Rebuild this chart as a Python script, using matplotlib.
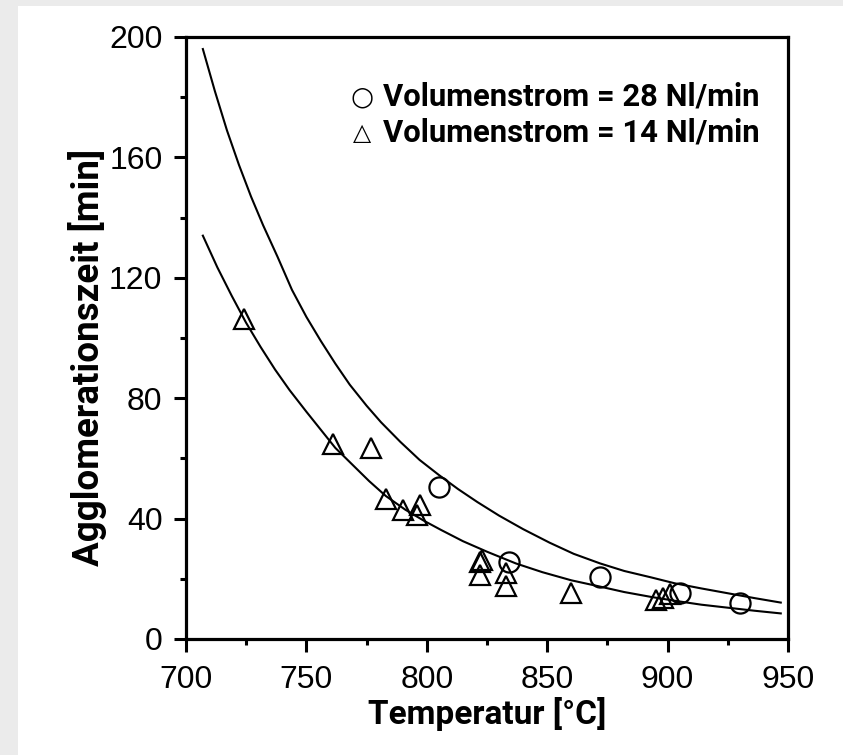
import numpy as np
import matplotlib.pyplot as plt
from matplotlib.patches import Rectangle

# --- Messpunkte ---
T_28 = [805, 834, 872, 905, 930]
t_28 = [50.5, 25.7, 20.6, 15.4, 12.1]

T_14 = [724, 761, 777, 783, 790, 797, 796, 822, 823, 822, 833, 833, 860, 895, 898, 901]
t_14 = [106.2, 64.8, 63.4, 46.4, 42.7, 44.6, 41.3, 25.7, 26.3, 21.3, 21.8, 17.7, 15.4, 13.0, 13.5, 15.0]

T_fit_28 = [707, 712, 717, 722, 727, 732, 738, 744, 750, 756, 762, 768, 775, 781, 789, 797,
            805, 813, 821, 830, 840, 851, 861, 872, 882, 893, 903, 914, 925, 936, 947]
t_fit_28 = [196, 182, 169, 157.5, 147, 137.5, 127, 116, 107, 99, 91.5, 84.5, 77.5, 72, 65.5, 59.5,
            54.5, 49.8, 45.5, 41, 36.5, 32, 28.3, 25.1, 22.6, 20.5, 18.5, 16.8, 15.2, 13.6, 12.1]

T_fit_14 = [707, 713, 719, 725, 731, 737, 743, 750, 756, 762, 769, 776, 783, 791, 799, 806,
            815, 825, 837, 848, 860, 872, 882, 893, 903, 914, 925, 936, 947]
t_fit_14 = [134, 123.5, 114, 105, 97, 89.5, 82.7, 75.5, 69.5, 63.5, 58, 52.5, 47.5, 43, 39.2, 36.2,
            32.5, 29, 25.1, 22.2, 19.5, 17.4, 15.6, 14.0, 12.7, 11.4, 10.4, 9.4, 8.5]

xticks = [700, 750, 800, 850, 900, 950]
yticks = [0, 40, 80, 120, 160, 200]

plt.rcParams['font.family'] = ['Liberation Sans', 'DejaVu Sans']

fig = plt.figure(figsize=(8.43, 7.55), dpi=100, facecolor="#ebebeb")
# weisser Bereich (grauer Rand nur links und oben)
bg = fig.add_axes([18 / 843, 0, 1 - 18 / 843, 1 - 6 / 755], zorder=-5)
bg.axis("off")
bg.add_patch(Rectangle((0, 0), 1, 1, transform=bg.transAxes, facecolor="white", edgecolor="none"))

ax = fig.add_axes([186 / 843, 1 - 639 / 755, 602 / 843, 602 / 755])
ax.set_facecolor("white")

ax.plot(T_fit_28, t_fit_28, color="black", lw=1.5)
ax.plot(T_fit_14, t_fit_14, color="black", lw=1.5)

ax.plot(T_28, t_28, "o", ms=14.5, mfc="none", mec="black", mew=1.6)
ax.plot(T_14, t_14, "^", ms=14, mfc="none", mec="black", mew=1.6)

ax.set_xlim(700, 950)
ax.set_ylim(0, 200)
ax.set_xticks(xticks)
ax.set_yticks(yticks)
ax.set_xticks([725, 775, 825, 875, 925], minor=True)
ax.set_yticks([20, 60, 100, 140, 180], minor=True)

for s in ax.spines.values():
    s.set_linewidth(2.3)
ax.tick_params(which="major", direction="out", length=9, width=2.2, labelsize=23, pad=8)
ax.tick_params(which="minor", direction="out", length=4, width=2.2)
ax.tick_params(axis="x", pad=10)

fam = ['Roboto', 'Liberation Sans', 'DejaVu Sans']
ax.set_xlabel("Temperatur [°C]", labelpad=1, family=fam, fontsize=24, fontweight="bold")
ax.set_ylabel("Agglomerationszeit [min]", family=fam, fontsize=26.5, fontweight="bold")
ax.yaxis.set_label_coords(-0.132, 0.468)

# Legende
leg_font = dict(family=fam, fontsize=22.3, fontweight="bold", va="center")
fig.text(383 / 843, 1 - 97 / 755, "Volumenstrom = 28 Nl/min", **leg_font)
fig.text(383 / 843, 1 - 133 / 755, "Volumenstrom = 14 Nl/min", **leg_font)
fig.text(362 / 843, 1 - 97 / 755, "○", fontsize=19, ha="center", va="center",
         family=['DejaVu Sans'])
fig.text(362 / 843, 1 - 133 / 755, "△", fontsize=17, ha="center", va="center",
         family=['DejaVu Sans'])

fig.savefig("out.png", dpi=100, facecolor=fig.get_facecolor())
